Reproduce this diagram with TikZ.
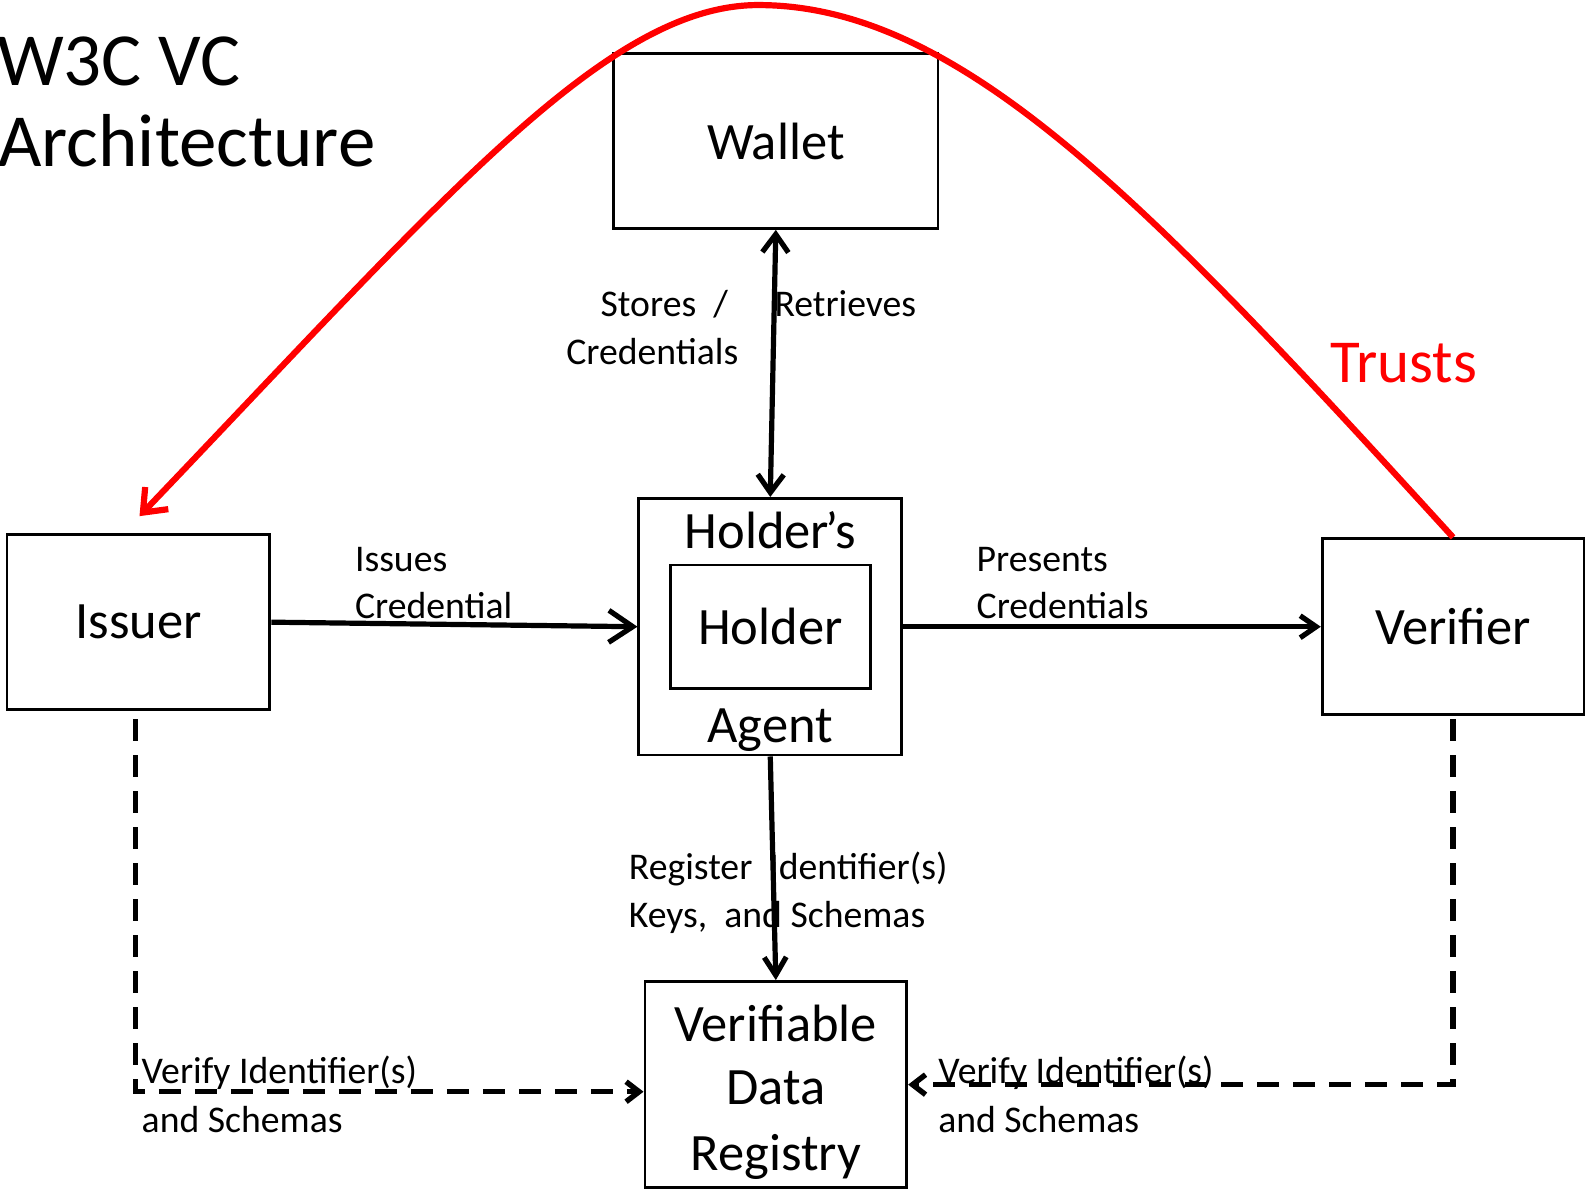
\documentclass[tikz,border=0pt]{standalone}
\usepackage{fontspec}
\setmainfont{Carlito}
\usetikzlibrary{arrows.meta}
\definecolor{trustred}{RGB}{255,0,0}
\begin{document}
\begin{tikzpicture}[x=1.0108pt,y=-1.0108pt,
  box/.style={draw,line width=2.8pt,rectangle,inner sep=0pt,font=\fontsize{52.5}{63}\selectfont},
  boxtxt/.style={inner sep=0pt,anchor=base,font=\fontsize{52.5}{63}\selectfont},
  lbl/.style={inner sep=0pt,anchor=base west,font=\fontsize{37.7}{45}\selectfont},
  conn/.style={line width=5.2pt},
  dconn/.style={line width=5.4pt,dash pattern=on 22pt off 14pt},
  trustline/.style={draw=trustred,line width=6.2pt}
]
\useasboundingbox (0,0) rectangle (1568,1176);

% title
\node[inner sep=0pt,anchor=base west,font=\fontsize{75}{81}\selectfont] (t1) at (-3,85) {W3C VC};
\node[inner sep=0pt,anchor=base west,font=\fontsize{75}{81}\selectfont] (t2) at (-2,165) {Architecture};

% boxes
\node[box,minimum width=324.5pt,minimum height=174.9pt] (wallet) at (767.5,139.5) {Wallet};
\node[box,minimum width=262.8pt,minimum height=256.7pt] (hagent) at (762,620) {};
\node[box,minimum width=200.1pt,minimum height=123.3pt] (holder) at (762,620) {Holder};
\node[boxtxt] (hagtop) at (762,543) {Holder\kern-4pt’s};
\node[boxtxt] (hagbot) at (762,735) {Agent};
\node[box,minimum width=262.8pt,minimum height=174.9pt] (issuer) at (137,615.5) {Issuer};
\node[box,minimum width=261.8pt,minimum height=175.9pt] (verifier) at (1437.5,620) {Verifier};
\node[box,minimum width=261.8pt,minimum height=206.2pt] (vdr) at (767.5,1073) {};
\node[boxtxt] (vdr1) at (767.5,1030) {Verifiable};
\node[boxtxt] (vdr2) at (767.5,1093) {Data};
\node[boxtxt] (vdr3) at (767.5,1158) {Registry};

% solid connectors
\draw[conn,{Straight Barb[length=18pt,width=26pt]}-{Straight Barb[length=18pt,width=26pt]}] (wallet.south) -- (hagent.north);
\draw[conn,-{Straight Barb[length=24pt,width=32pt]}] (issuer.east) -- (hagent.west);
\draw[conn,-{Straight Barb[length=16pt,width=22pt]}] (hagent.east) -- (verifier.west);
\draw[conn,-{Straight Barb[length=18pt,width=22pt]}] (hagent.south) -- (vdr.north);

% dashed connectors
\draw[dconn,-{Straight Barb[length=13pt,width=20pt]}] ([shift={(-3,8)}]issuer.south) |- ([shift={(0,7)}]vdr.west);
\draw[dconn,-{Straight Barb[length=13pt,width=20pt]}] ([shift={(0,3)}]verifier.south) |- (vdr.east);

% trust curve
\coordinate (trusttip) at ([shift={(1,-17)}]issuer.north);
\draw[trustline,-{Straight Barb[length=20pt,width=32pt]}] (verifier.north) .. controls (1137,202) and (950,5) .. (750,5) .. controls (600,5) and (438,197) .. (trusttip);
\node[inner sep=0pt,anchor=base west,text=trustred,font=\fontsize{61}{70}\selectfont] (trusts) at (1316,378) {Trusts};

% labels
\node[lbl] (l1a) at (594,313) {Stores~~/};
\node[lbl] (l1b) at (766,313) {Retrieves};
\node[lbl] (l1c) at (560,361) {Credentials};
\node[lbl] (l2a) at (351,565) {Issues};
\node[lbl] (l2b) at (351,612) {Credential};
\node[lbl] (l3a) at (966,565) {Presents};
\node[lbl] (l3b) at (966,612) {Credentials};
\node[lbl] (l4a) at (622,870) {Register~~Identifier(s)};
\node[lbl] (l4b) at (622,918) {Keys,~~and Schemas};
\node[lbl] (l5a) at (140,1072) {Verify Identifier(s)};
\node[lbl] (l5b) at (140,1120) {and Schemas};
\node[lbl] (l6a) at (928,1072) {Verify Identifier(s)};
\node[lbl] (l6b) at (928,1120) {and Schemas};
\end{tikzpicture}
\end{document}
